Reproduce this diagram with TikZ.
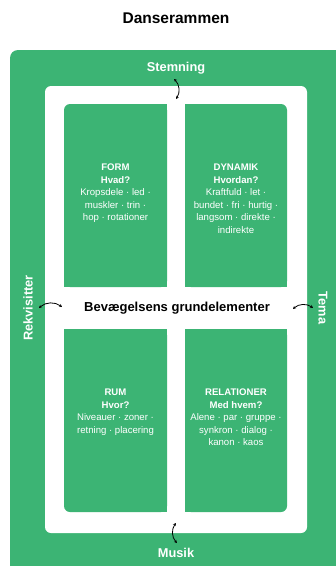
\documentclass[tikz,border=0pt]{standalone}
\usepackage{fontspec}
\setmainfont{Liberation Sans}
\usetikzlibrary{arrows.meta}
\definecolor{framegreen}{HTML}{3CB474}

\begin{document}
\begin{tikzpicture}
[x=1pt,y=-1pt
,panel/.style={rectangle,fill=framegreen,rounded corners=6pt,inner sep=0pt}
,ptext/.style={anchor=north,align=center,text=white,inner sep=0pt,font=\fontsize{9.6}{12.5}\selectfont}
,side/.style={text=white,font=\fontsize{12.8}{14}\selectfont\bfseries}
,link/.style={draw=black,line width=0.8pt,arrows={Stealth[length=3pt,width=3pt]-Stealth[length=3pt,width=3pt]}}
]
\useasboundingbox (0,0) rectangle (336,566);
\clip (0,0) rectangle (336,566);
\fill[white] (0,0) rectangle (336,566);
\node[font=\fontsize{15.5}{17}\selectfont\bfseries] (title) at (176,18) {Danserammen};
\fill[framegreen,rounded corners=8pt] (10,50) rectangle (350,580);
\node[rectangle,fill=white,rounded corners=6pt,minimum width=262pt,minimum height=447pt,inner sep=0pt] (frame) at (176,309.5) {};
% fire felter
\node[panel,minimum width=103pt,minimum height=183pt] (form) at (115.5,195.5) {};
\node[panel,minimum width=102pt,minimum height=183pt] (dyn) at (236,195.5) {};
\node[panel,minimum width=103pt,minimum height=183pt] (rum) at (115.5,420.5) {};
\node[panel,minimum width=102pt,minimum height=183pt] (rel) at (236,420.5) {};
\fill[framegreen] (form.north east) ++(-10,0) rectangle (form.south east);
\fill[framegreen] (form.south west) rectangle ([yshift=10pt]form.east);
\fill[framegreen] (dyn.north west) ++(10,0) rectangle (dyn.south west);
\fill[framegreen] (dyn.south east) rectangle ([yshift=10pt]dyn.west);
\fill[framegreen] (rum.north west) rectangle ([yshift=-10pt]rum.east);
\fill[framegreen] (rum.south east) ++(-10,0) rectangle (rum.north east);
\fill[framegreen] (rel.north east) rectangle ([yshift=-10pt]rel.west);
\fill[framegreen] (rel.south west) ++(10,0) rectangle (rel.north west);
\node[ptext] (formtxt) at (115.5,164) {\textbf{FORM}\\\textbf{Hvad?}\\Kropsdele · led ·\\muskler · trin ·\\hop · rotationer};
\node[ptext] (dyntxt) at (236,164) {\textbf{DYNAMIK}\\\textbf{Hvordan?}\\Kraftfuld · let ·\\bundet · fri · hurtig ·\\langsom · direkte ·\\indirekte};
\node[ptext] (rumtxt) at (115.5,389) {\textbf{RUM}\\\textbf{Hvor?}\\Niveauer · zoner ·\\retning · placering};
\node[ptext] (reltxt) at (236,389) {\textbf{RELATIONER}\\\textbf{Med hvem?}\\Alene · par · gruppe ·\\synkron · dialog ·\\kanon · kaos};
\node[font=\fontsize{13}{15}\selectfont\bfseries] (core) at (177,308) {Bevægelsens grundelementer};
% rammens sider
\node[side] (stem) at (176,68) {Stemning};
\node[side] (musik) at (176,553) {Musik};
\node[side,rotate=90] (rekv) at (28,308) {Rekvisitter};
\node[side,rotate=-90] (tema) at (323,308) {Tema};
\coordinate (ta) at (174,79);
\coordinate (tb) at (176,99);
\coordinate (ba) at (176,523);
\coordinate (bb) at (177,543);
\coordinate (la) at (39,308);
\coordinate (lb) at (62,307);
\coordinate (ra) at (293,309);
\coordinate (rb) at (313,308);
\draw[link] (ta) to[bend left=40] (tb);
\draw[link] (ba) to[bend right=40] (bb);
\draw[link] (la) to[bend left=40] (lb);
\draw[link] (ra) to[bend left=40] (rb);
\end{tikzpicture}
\end{document}
